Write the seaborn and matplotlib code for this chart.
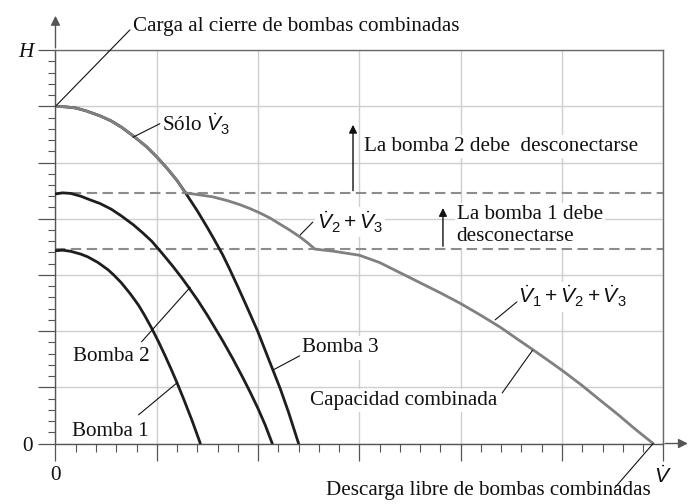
import numpy as np
import seaborn as sns
from matplotlib import pyplot as plt
from matplotlib.ticker import MultipleLocator

# values (flow and head in grid units)
pump1_q = [0.0, 0.07, 0.15, 0.25, 0.32, 0.42, 0.52, 0.58, 0.65, 0.74, 0.82, 0.88, 0.95,
           1.02, 1.08, 1.14, 1.20, 1.27, 1.35, 1.43]
pump1_h = [3.43, 3.44, 3.42, 3.37, 3.32, 3.22, 3.09, 2.99, 2.86, 2.66, 2.46, 2.28, 2.05,
           1.80, 1.57, 1.33, 1.08, 0.77, 0.40, 0.0]

pump2_q = [0.0, 0.07, 0.15, 0.25, 0.35, 0.44, 0.55, 0.65, 0.77, 0.86, 0.95, 1.05, 1.16,
           1.25, 1.31, 1.40, 1.50, 1.57, 1.65, 1.75, 1.85, 1.92, 2.00, 2.07, 2.14]
pump2_h = [4.44, 4.46, 4.45, 4.40, 4.33, 4.27, 4.17, 4.05, 3.89, 3.75, 3.60, 3.39, 3.15,
           2.94, 2.79, 2.56, 2.28, 2.07, 1.83, 1.51, 1.17, 0.92, 0.62, 0.33, 0.0]

pump3_q = [0.0, 0.1, 0.2, 0.3, 0.44, 0.55, 0.65, 0.77, 0.9, 1.0, 1.1, 1.2, 1.28, 1.4,
           1.5, 1.57, 1.65, 1.72, 1.8, 1.9, 2.0, 2.1, 2.22, 2.3, 2.40]
pump3_h = [6.0, 5.99, 5.97, 5.92, 5.83, 5.74, 5.63, 5.47, 5.28, 5.10, 4.90, 4.68, 4.47, 4.14,
           3.84, 3.62, 3.36, 3.10, 2.79, 2.39, 1.98, 1.52, 0.97, 0.56, 0.0]

# combined curve: pump 3 alone, then 2 + 3, then 1 + 2 + 3
combined_q = [0.0, 0.1, 0.2, 0.3, 0.44, 0.55, 0.65, 0.77, 0.9, 1.0, 1.1, 1.2, 1.28,
              1.40, 1.55, 1.70, 1.82, 1.92, 2.02, 2.12, 2.21, 2.31, 2.41, 2.49, 2.56,
              2.75, 3.00, 3.20, 3.40, 3.60, 3.80, 3.99, 4.20, 4.39, 4.55, 4.72, 4.87,
              5.01, 5.20, 5.37, 5.55, 5.72, 5.90]
combined_h = [6.0, 5.99, 5.97, 5.92, 5.83, 5.74, 5.63, 5.47, 5.28, 5.10, 4.90, 4.68, 4.46,
              4.43, 4.39, 4.32, 4.25, 4.18, 4.10, 4.01, 3.91, 3.80, 3.68, 3.57, 3.46,
              3.42, 3.35, 3.22, 3.04, 2.86, 2.68, 2.50, 2.28, 2.07, 1.87, 1.66, 1.47,
              1.29, 1.03, 0.78, 0.52, 0.26, 0.0]

switch_heads = [4.45, 3.46]
x_ticks = [0, 1, 2, 3, 4, 5, 6]
x_labels = ['0', '', '', '', '', '', r'$\dot{V}$']
y_ticks = [0, 1, 2, 3, 4, 5, 6, 7]
y_labels = ['0', '', '', '', '', '', '', 'H']

sns.set_theme(style='white')
plt.rcParams['font.family'] = ['Liberation Serif', 'DejaVu Serif']
plt.rcParams['mathtext.fontset'] = 'custom'
plt.rcParams['mathtext.rm'] = 'Liberation Sans'
plt.rcParams['mathtext.it'] = 'Liberation Sans:italic'

fs = 15.2
ink = '#111111'
axis_c = '#555555'

fig = plt.figure(figsize=(6.91, 5.04), dpi=100)
ax = fig.add_axes([0.0803, 0.12, 0.8796, 0.7806])
ax.set_xlim(0, 6)
ax.set_ylim(0, 7)

# grid and ticks
ax.set_xticks(x_ticks)
ax.set_xticklabels(x_labels)
ax.set_yticks(y_ticks)
ax.set_yticklabels(y_labels)
ax.yaxis.get_ticklabels()[-1].set_fontstyle('italic')
ax.xaxis.set_minor_locator(MultipleLocator(0.2))
ax.yaxis.set_minor_locator(MultipleLocator(0.2))
ax.grid(which='major', color='#cfcfcf', lw=1.0)
ax.tick_params(which='major', direction='out', length=12.2, width=0.9, color=axis_c,
               labelsize=fs, labelcolor=ink, pad=4, bottom=True, left=True)
ax.tick_params(axis='x', which='minor', direction='out', length=5.8, width=0.8,
               color=axis_c, bottom=True)
ax.tick_params(axis='y', which='minor', direction='out', length=5.0, width=0.8,
               color=axis_c, left=True)
for side in ['left', 'bottom']:
    ax.spines[side].set_color(axis_c)
    ax.spines[side].set_linewidth(1.0)
for side in ['top', 'right']:
    ax.spines[side].set_color('#6a6a6a')
    ax.spines[side].set_linewidth(1.0)

# axis arrows
arrow_kw = dict(arrowstyle='-|>', color=axis_c, lw=1.0, mutation_scale=14)
ax.annotate('', xy=(0, 7.66), xytext=(0, 6.99), arrowprops=arrow_kw, annotation_clip=False)
ax.annotate('', xy=(6.27, 0), xytext=(5.99, 0), arrowprops=arrow_kw, annotation_clip=False)

# switching levels
for h in switch_heads:
    ax.axhline(h, color='#8c8c8c', lw=1.5, dashes=(5, 2.6), zorder=2)

# pump curves
for q, h in [(pump1_q, pump1_h), (pump2_q, pump2_h), (pump3_q, pump3_h)]:
    sns.lineplot(x=q, y=h, sort=False, estimator=None, color='#1e1e1e', lw=2.0, ax=ax, zorder=3)
sns.lineplot(x=combined_q, y=combined_h, sort=False, estimator=None, color='#808080',
             lw=2.0, ax=ax, zorder=4)

# labels with leader lines
box = dict(facecolor='white', edgecolor='none', pad=1.5)


def label(txt, x, y, lead=None, ha='left', **kw):
    ax.text(x, y, txt, ha=ha, va='center', fontsize=fs, color=ink, bbox=box,
            zorder=6, clip_on=False, **kw)
    if lead is not None:
        (x0, y0), (x1, y1) = lead
        ax.plot([x0, x1], [y0, y1], color=ink, lw=0.8, zorder=7, clip_on=False)


label('Carga al cierre de bombas combinadas', 0.765, 7.42, lead=((0, 6.0), (0.735, 7.36)))
label(r'Sólo $\dot{V}_3$', 1.05, 5.67, lead=((0.765, 5.45), (1.03, 5.69)))
label('La bomba 2 debe  desconectarse', 3.045, 5.29)
label('La bomba 1 debe\ndesconectarse', 3.96, 3.88)
label(r'$\dot{V}_2 + \dot{V}_3$', 2.58, 3.94, lead=((2.415, 3.71), (2.54, 3.94)))
label(r'$\dot{V}_1 + \dot{V}_2 + \dot{V}_3$', 4.565, 2.61, lead=((4.34, 2.20), (4.555, 2.52)))
label('Capacidad combinada', 2.51, 0.77, lead=((4.41, 0.90), (4.71, 1.66)))
label('Bomba 3', 2.43, 1.70, lead=((2.15, 1.31), (2.41, 1.56)))
label('Bomba 2', 0.17, 1.54, lead=((0.85, 1.81), (1.33, 2.78)))
label('Bomba 1', 0.16, 0.21, lead=((0.82, 0.51), (1.20, 1.08)))
label('Descarga libre de bombas combinadas', 2.67, -0.83, lead=((5.90, 0), (5.52, -0.79)))

arrow_up = dict(arrowstyle='-|>', color=ink, lw=1.0, mutation_scale=12)
ax.annotate('', xy=(2.937, 5.72), xytext=(2.937, switch_heads[0]), arrowprops=arrow_up, zorder=6)
ax.annotate('', xy=(3.825, 4.24), xytext=(3.825, switch_heads[1]), arrowprops=arrow_up, zorder=6)

fig.savefig('out.png', dpi=100)
